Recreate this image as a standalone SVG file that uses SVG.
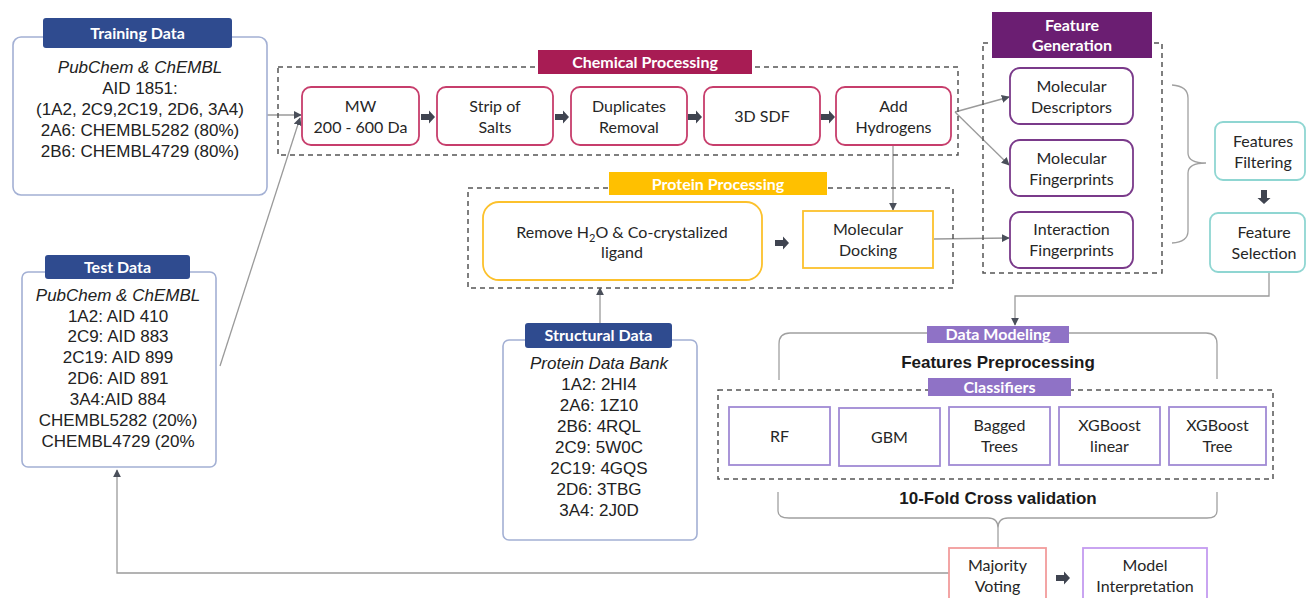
<svg xmlns="http://www.w3.org/2000/svg" width="1306" height="598" viewBox="0 0 1306 598">
<defs>
<style>
.bg{fill:#ffffff}
.databox{fill:#ffffff;stroke:#a3b0d4;stroke-width:1.6}
.tabblue{fill:#2f4b8f}
.tabtxt{font-family:Lato,"Open Sans",sans-serif;font-weight:bold;font-size:16px;fill:#ffffff;text-anchor:middle}
.dtxt{font-family:"Liberation Sans",Arial,sans-serif;font-size:17px;fill:#222;text-anchor:middle}
.dtxt-i{font-style:italic}
.lbl{font-family:Lato,"Open Sans",sans-serif;font-size:16px;fill:#262626;text-anchor:middle}
.bold{font-family:"Liberation Sans",Arial,sans-serif;font-weight:bold;font-size:17px;fill:#1a1a1a;text-anchor:middle}
.dash{fill:none;stroke:#555;stroke-width:1.5;stroke-dasharray:5 4}
.chem{fill:#fff;stroke:#c73e6c;stroke-width:1.8}
.feat{fill:#fff;stroke:#7a3a8a;stroke-width:1.8}
.teal{fill:#fff;stroke:#8fd6d2;stroke-width:1.8}
.prot{fill:#fff;stroke:#fcc12c;stroke-width:1.8}
.cls{fill:#fff;stroke:#a08ad4;stroke-width:1.8}
.vote{fill:#fff;stroke:#f29c9c;stroke-width:1.8}
.interp{fill:#fff;stroke:#c49bf0;stroke-width:1.8}
.conn{fill:none;stroke:#9a9a9a;stroke-width:1.3}
.brace{fill:none;stroke:#a0a0a0;stroke-width:1.3}
.blk{fill:#3f4450}
</style>
<marker id="ah" viewBox="0 0 10 10" refX="9" refY="5" markerWidth="8" markerHeight="8" markerUnits="userSpaceOnUse" orient="auto">
<path d="M0,0 L10,5 L0,10 z" fill="#4a4f5a"/>
</marker>
<path id="barrow" d="M-7,-3 L1,-3 L1,-6.5 L7,0 L1,6.5 L1,3 L-7,3 z"/>
</defs>
<rect class="bg" x="0" y="0" width="1306" height="598"/>

<g id="connectors">
<line class="conn" x1="267" y1="115" x2="301" y2="115" marker-end="url(#ah)"/>
<line class="conn" x1="220" y1="366" x2="300" y2="118" marker-end="url(#ah)"/>
<line class="conn" x1="955" y1="112" x2="1009" y2="97" marker-end="url(#ah)"/>
<line class="conn" x1="955" y1="112" x2="1009" y2="165" marker-end="url(#ah)"/>
<line class="conn" x1="934" y1="239" x2="1009" y2="238" marker-end="url(#ah)"/>
<line class="conn" x1="893" y1="145" x2="893" y2="210" marker-end="url(#ah)"/>
<line class="conn" x1="600" y1="323" x2="600" y2="288" marker-end="url(#ah)"/>
<polyline class="conn" points="1269,272 1269,296 1015,296 1015,325" marker-end="url(#ah)"/>
<polyline class="conn" points="949,573 117,573 117,470" marker-end="url(#ah)"/>
<path class="brace" d="M1172,85 Q1188,86 1188,98 L1188,153 Q1188,163 1206,163 Q1188,163 1188,173 L1188,231 Q1188,242 1172,243"/>
<path class="brace" d="M779,380 L779,344 Q779,333 790,333 L927,333 M1069,333 L1206,333 Q1217,333 1217,344 L1217,379"/>
<path class="brace" d="M778,492 L778,511 Q778,518 789,518 L988,518 Q998,518 998,528 L998,548 M998,528 Q998,518 1008,518 L1207,518 Q1217,518 1217,511 L1217,492"/>
<use href="#barrow" class="blk" x="428" y="117"/>
<use href="#barrow" class="blk" x="562" y="117"/>
<use href="#barrow" class="blk" x="695" y="117"/>
<use href="#barrow" class="blk" x="828" y="117"/>
<use href="#barrow" class="blk" x="782" y="243"/>
<use href="#barrow" class="blk" x="1063" y="578"/>
<use href="#barrow" class="blk" transform="translate(1264,197) rotate(90)"/>
</g>

<g id="training-data">
<rect class="databox" x="13" y="37" width="254" height="158" rx="8"/>
<rect class="tabblue" x="43" y="18" width="189" height="30" rx="3"/>
<text class="tabtxt" x="137.5" y="39">Training Data</text>
<text class="dtxt dtxt-i" x="140" y="73">PubChem &amp; ChEMBL</text>
<text class="dtxt" x="140" y="94">AID 1851:</text>
<text class="dtxt" x="140" y="115">(1A2, 2C9,2C19, 2D6, 3A4)</text>
<text class="dtxt" x="140" y="136">2A6: CHEMBL5282 (80%)</text>
<text class="dtxt" x="140" y="157">2B6: CHEMBL4729 (80%)</text>
</g>

<g id="test-data">
<rect class="databox" x="22" y="272" width="194" height="195" rx="6"/>
<rect class="tabblue" x="45" y="255" width="145" height="24" rx="3"/>
<text class="tabtxt" x="117.5" y="273">Test Data</text>
<text class="dtxt dtxt-i" x="118" y="301">PubChem &amp; ChEMBL</text>
<text class="dtxt" x="118" y="322">1A2: AID 410</text>
<text class="dtxt" x="118" y="342">2C9: AID 883</text>
<text class="dtxt" x="118" y="363">2C19: AID 899</text>
<text class="dtxt" x="118" y="384">2D6: AID 891</text>
<text class="dtxt" x="118" y="405">3A4:AID 884</text>
<text class="dtxt" x="118" y="426">CHEMBL5282 (20%)</text>
<text class="dtxt" x="118" y="447">CHEMBL4729 (20%</text>
</g>

<g id="structural-data">
<rect class="databox" x="503" y="340" width="194" height="200" rx="6"/>
<rect class="tabblue" x="525" y="323" width="147" height="25" rx="3"/>
<text class="tabtxt" x="598.5" y="341">Structural Data</text>
<text class="dtxt dtxt-i" x="599" y="369">Protein Data Bank</text>
<text class="dtxt" x="599" y="390">1A2: 2HI4</text>
<text class="dtxt" x="599" y="411">2A6: 1Z10</text>
<text class="dtxt" x="599" y="432">2B6: 4RQL</text>
<text class="dtxt" x="599" y="453">2C9: 5W0C</text>
<text class="dtxt" x="599" y="474">2C19: 4GQS</text>
<text class="dtxt" x="599" y="495">2D6: 3TBG</text>
<text class="dtxt" x="599" y="516">3A4: 2J0D</text>
</g>

<g id="chemical-processing">
<rect class="dash" x="278" y="67" width="680" height="88"/>
<rect x="538" y="50" width="214" height="24" fill="#a81c54"/>
<text class="tabtxt" x="645" y="68">Chemical Processing</text>
</g>
<g id="mw">
<rect class="chem" x="302" y="87" width="117" height="58" rx="9"/>
<text class="lbl" x="360.5" y="111.5">MW</text>
<text class="lbl" x="360.5" y="132.5">200 - 600 Da</text>
</g>
<g id="strip-salts">
<rect class="chem" x="437" y="87" width="116" height="58" rx="9"/>
<text class="lbl" x="495" y="111.5">Strip of</text>
<text class="lbl" x="495" y="132.5">Salts</text>
</g>
<g id="duplicates">
<rect class="chem" x="571" y="87" width="116" height="58" rx="9"/>
<text class="lbl" x="629" y="111.5">Duplicates</text>
<text class="lbl" x="629" y="132.5">Removal</text>
</g>
<g id="sdf">
<rect class="chem" x="704" y="87" width="116" height="58" rx="9"/>
<text class="lbl" x="762" y="121.5">3D SDF</text>
</g>
<g id="add-hydrogens">
<rect class="chem" x="836" y="87" width="115" height="58" rx="9"/>
<text class="lbl" x="893.5" y="111.5">Add</text>
<text class="lbl" x="893.5" y="132.5">Hydrogens</text>
</g>

<g id="feature-generation">
<rect class="dash" x="983" y="43" width="179" height="230"/>
<rect x="992" y="12" width="160" height="46" fill="#6b1e72"/>
<text class="tabtxt" x="1072" y="31">Feature</text>
<text class="tabtxt" x="1072" y="51">Generation</text>
</g>
<g id="mol-descriptors">
<rect class="feat" x="1010" y="68" width="123" height="56" rx="10"/>
<text class="lbl" x="1071.5" y="91.5">Molecular</text>
<text class="lbl" x="1071.5" y="112.5">Descriptors</text>
</g>
<g id="mol-fingerprints">
<rect class="feat" x="1010" y="140" width="123" height="56" rx="10"/>
<text class="lbl" x="1071.5" y="163.5">Molecular</text>
<text class="lbl" x="1071.5" y="184.5">Fingerprints</text>
</g>
<g id="int-fingerprints">
<rect class="feat" x="1010" y="212" width="123" height="56" rx="10"/>
<text class="lbl" x="1071.5" y="234.5">Interaction</text>
<text class="lbl" x="1071.5" y="255.5">Fingerprints</text>
</g>

<g id="features-filtering">
<rect class="teal" x="1215" y="122" width="90" height="58" rx="8"/>
<text class="lbl" x="1263" y="146.5">Features</text>
<text class="lbl" x="1263" y="167.5">Filtering</text>
</g>
<g id="feature-selection">
<rect class="teal" x="1210" y="213" width="95" height="59" rx="8"/>
<text class="lbl" x="1264" y="237.5">Feature</text>
<text class="lbl" x="1264" y="258.5">Selection</text>
</g>

<g id="protein-processing">
<rect class="dash" x="468" y="188" width="485" height="100"/>
<rect x="609" y="172" width="218" height="23" fill="#ffc000"/>
<text class="tabtxt" x="718" y="189.5">Protein Processing</text>
</g>
<g id="remove-h2o">
<rect class="prot" x="483" y="202" width="279" height="78" rx="16"/>
<text class="lbl" x="622" y="237.5">Remove H<tspan font-size="11" dy="4">2</tspan><tspan dy="-4">O &amp; Co-crystalized</tspan></text>
<text class="lbl" x="622" y="257.5">ligand</text>
</g>
<g id="molecular-docking">
<rect class="prot" x="803" y="211" width="130" height="57"/>
<text class="lbl" x="868" y="234.5">Molecular</text>
<text class="lbl" x="868" y="255.5">Docking</text>
</g>

<g id="data-modeling">
<rect x="927" y="326" width="142" height="17" fill="#8f72c6"/>
<text class="tabtxt" x="998" y="340">Data Modeling</text>
<text class="bold" x="998" y="368">Features Preprocessing</text>
<rect class="dash" x="718" y="390" width="555" height="89"/>
<rect x="928" y="378" width="143" height="18" fill="#8f72c6"/>
<text class="tabtxt" x="999.5" y="392.5">Classifiers</text>
<text class="bold" x="998" y="504">10-Fold Cross validation</text>
</g>
<g id="rf">
<rect class="cls" x="729" y="407" width="101" height="58"/>
<text class="lbl" x="779.5" y="442">RF</text>
</g>
<g id="gbm">
<rect class="cls" x="839" y="408" width="101" height="58"/>
<text class="lbl" x="889.5" y="443">GBM</text>
</g>
<g id="bagged-trees">
<rect class="cls" x="949" y="407" width="101" height="58"/>
<text class="lbl" x="999.5" y="430.5">Bagged</text>
<text class="lbl" x="999.5" y="451.5">Trees</text>
</g>
<g id="xgboost-linear">
<rect class="cls" x="1059" y="407" width="101" height="58"/>
<text class="lbl" x="1109.5" y="430.5">XGBoost</text>
<text class="lbl" x="1109.5" y="451.5">linear</text>
</g>
<g id="xgboost-tree">
<rect class="cls" x="1169" y="407" width="97" height="58"/>
<text class="lbl" x="1217.5" y="430.5">XGBoost</text>
<text class="lbl" x="1217.5" y="451.5">Tree</text>
</g>

<g id="majority-voting">
<rect class="vote" x="949" y="548" width="97" height="62"/>
<text class="lbl" x="997.5" y="570.5">Majority</text>
<text class="lbl" x="997.5" y="591.5">Voting</text>
</g>
<g id="model-interpretation">
<rect class="interp" x="1083" y="548" width="124" height="62"/>
<text class="lbl" x="1145" y="570.5">Model</text>
<text class="lbl" x="1145" y="591.5">Interpretation</text>
</g>
</svg>
